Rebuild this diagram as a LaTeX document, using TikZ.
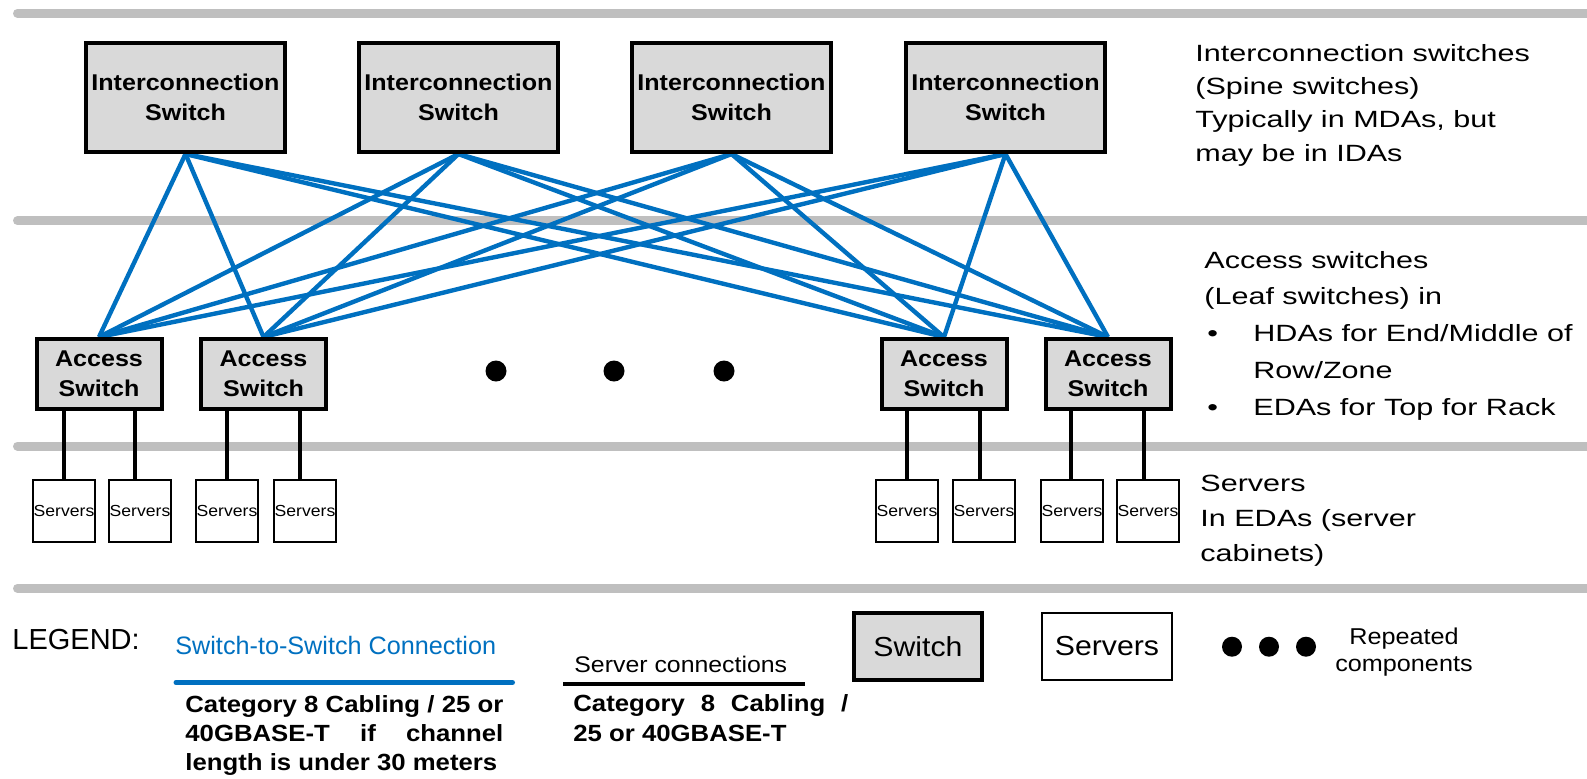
\documentclass[tikz,border=0pt]{standalone}
\usepackage{fontspec}
\setmainfont{Liberation Sans}
\newfontfamily\fA{Liberation Sans}
\newfontfamily\fB{Liberation Sans}[FakeStretch=1.1]
\newfontfamily\fD{Liberation Sans}[FakeStretch=1.3]
\usetikzlibrary{backgrounds}
\definecolor{linkblue}{RGB}{0,112,192}
\definecolor{rulegray}{RGB}{191,191,191}
\definecolor{boxgray}{RGB}{217,217,217}
\begin{document}
\begin{tikzpicture}[x=0.5pt,y=-0.5pt,
  spine/.style={draw=black, line width=2pt, fill=boxgray, minimum width=99.5pt,
    minimum height=54.5pt, inner sep=0pt, align=center,
    font=\fB\bfseries\fontsize{11.4}{15.2}\selectfont},
  leaf/.style={spine, minimum width=62.5pt, minimum height=35pt},
  srvbox/.style={draw=black, line width=0.8pt, fill=white, minimum width=31.2pt,
    minimum height=31.2pt, inner sep=0pt, font=\fB\fontsize{8}{9}\selectfont},
  rule/.style={draw=rulegray, line width=4.5pt, line cap=round},
  s2s/.style={draw=linkblue, line width=2.2pt},
  s2srv/.style={draw=black, line width=2pt},
  dot/.style={circle, fill=black, inner sep=0pt, minimum size=10.5pt},
  % multi-line notes are placed by the baseline of their last line
  note/.style={inner sep=0pt, anchor=base west, align=left},
]
\useasboundingbox (0,0) rectangle (1587,778);

% spine (interconnection) switches
\node[spine] (i1) at (185.5,97.5) {Interconnection\\Switch};
\node[spine] (i2) at (458.5,97.5) {Interconnection\\Switch};
\node[spine] (i3) at (731.5,97.5) {Interconnection\\Switch};
\node[spine] (i4) at (1005.5,97.5) {Interconnection\\Switch};

% leaf (access) switches
\node[leaf] (a1) at (99,374) {Access\\Switch};
\node[leaf] (a2) at (263.5,374) {Access\\Switch};
\node[leaf] (a3) at (944,374) {Access\\Switch};
\node[leaf] (a4) at (1108,374) {Access\\Switch};

% server cabinets
\node[srvbox] (s1) at (64,511) {Servers};
\node[srvbox] (s2) at (140,511) {Servers};
\node[srvbox] (s3) at (227,511) {Servers};
\node[srvbox] (s4) at (305,511) {Servers};
\node[srvbox] (s5) at (907,511) {Servers};
\node[srvbox] (s6) at (984,511) {Servers};
\node[srvbox] (s7) at (1072,511) {Servers};
\node[srvbox] (s8) at (1148,511) {Servers};

% repeated leaf switches
\node[dot] (d1) at (496,371) {};
\node[dot] (d2) at (614,371) {};
\node[dot] (d3) at (724,371) {};

% tier separators and cabling
\coordinate (g1a) at (17.5,13.3);  \coordinate (g1b) at (1600,13.3);
\coordinate (g2a) at (17.5,220.7); \coordinate (g2b) at (1600,220.7);
\coordinate (g3a) at (17.5,446);   \coordinate (g3b) at (1600,446);
\coordinate (g4a) at (17.5,588.3); \coordinate (g4b) at (1600,588.3);
\begin{scope}[on background layer]
  \draw[rule] (g1a) -- (g1b);
  \draw[rule] (g2a) -- (g2b);
  \draw[rule] (g3a) -- (g3b);
  \draw[rule] (g4a) -- (g4b);
  \foreach \sp in {i1,i2,i3,i4}
    \foreach \lf in {a1,a2,a3,a4}
      \draw[s2s] (\sp.south) -- (\lf.north);
  \draw[s2srv] (s1.north) -- (s1.north |- a1.south);
  \draw[s2srv] ([xshift=-2.5pt]s2.north) -- ([xshift=-2.5pt]s2.north |- a1.south);
  \draw[s2srv] (s3.north) -- (s3.north |- a2.south);
  \draw[s2srv] ([xshift=-2.5pt]s4.north) -- ([xshift=-2.5pt]s4.north |- a2.south);
  \draw[s2srv] (s5.north) -- (s5.north |- a3.south);
  \draw[s2srv] ([xshift=-2pt]s6.north) -- ([xshift=-2pt]s6.north |- a3.south);
  \draw[s2srv] ([xshift=-0.5pt]s7.north) -- ([xshift=-0.5pt]s7.north |- a4.south);
  \draw[s2srv] ([xshift=-2pt]s8.north) -- ([xshift=-2pt]s8.north |- a4.south);
\end{scope}

% tier descriptions
\node[note, font=\fD\fontsize{11.75}{16.65}\selectfont] (t1) at (1195,161)
  {Interconnection switches\\(Spine switches)\\Typically in MDAs, but\\may be in IDAs};
\node[note, font=\fD\fontsize{11.75}{18.35}\selectfont] (t2) at (1204,415)
  {Access switches\\(Leaf switches) in\\
   \makebox[24.5pt][l]{\hspace{1.5pt}\textbullet}HDAs for End/Middle of\\
   \makebox[24.5pt]{}Row/Zone\\
   \makebox[24.5pt][l]{\hspace{1.5pt}\textbullet}EDAs for Top for Rack};
\node[note, font=\fD\fontsize{11.75}{17.5}\selectfont] (t3) at (1200,561.7)
  {Servers\\In EDAs (server\\cabinets)};

% legend
\node[note, font=\fA\fontsize{14.5}{17}\selectfont] (lg) at (12,649) {LEGEND:};
\node[note, text=linkblue, font=\fA\fontsize{12.6}{15}\selectfont] (lb) at (175,654.3)
  {Switch-to-Switch Connection};
\coordinate (lb1) at (176,682.5); \coordinate (lb2) at (512.5,682.5);
\draw[draw=linkblue, line width=2.5pt, line cap=round] (lb1) -- (lb2);
\node[note, font=\fB\fontsize{11.3}{14}\selectfont] (lk) at (574,672) {Server connections};
\coordinate (lk1) at (563,684); \coordinate (lk2) at (805,684);
\draw[black, line width=2.2pt] (lk1) -- (lk2);
\node[note, font=\fB\bfseries\fontsize{11.7}{14.5}\selectfont] (c1) at (185,770)
  {\makebox[159pt][s]{Category 8 Cabling / 25 or}\\
   \makebox[159pt][s]{40GBASE-T if channel}\\
   length is under 30 meters};
\node[note, font=\fB\bfseries\fontsize{11.7}{15.3}\selectfont] (c2) at (573,741.7)
  {\makebox[137.5pt][s]{Category 8 Cabling /}\\25 or 40GBASE-T};
\node[spine, minimum width=64pt, minimum height=33.5pt,
  font=\fB\fontsize{13.75}{16}\selectfont] (lsw) at (918,646.5) {Switch};
\node[srvbox, minimum width=65.2pt, minimum height=33.7pt,
  font=\fB\fontsize{13.75}{16}\selectfont] (lsv) at (1107,646.5) {Servers};
\node[dot, minimum size=10pt] (ld1) at (1232,646.7) {};
\node[dot, minimum size=10pt] (ld2) at (1269,646.7) {};
\node[dot, minimum size=10pt] (ld3) at (1306,646.7) {};
\node[inner sep=0pt, anchor=base, align=center, font=\fB\fontsize{11.45}{13.5}\selectfont]
  (lr) at (1404,671) {Repeated\\components};
\end{tikzpicture}
\end{document}
